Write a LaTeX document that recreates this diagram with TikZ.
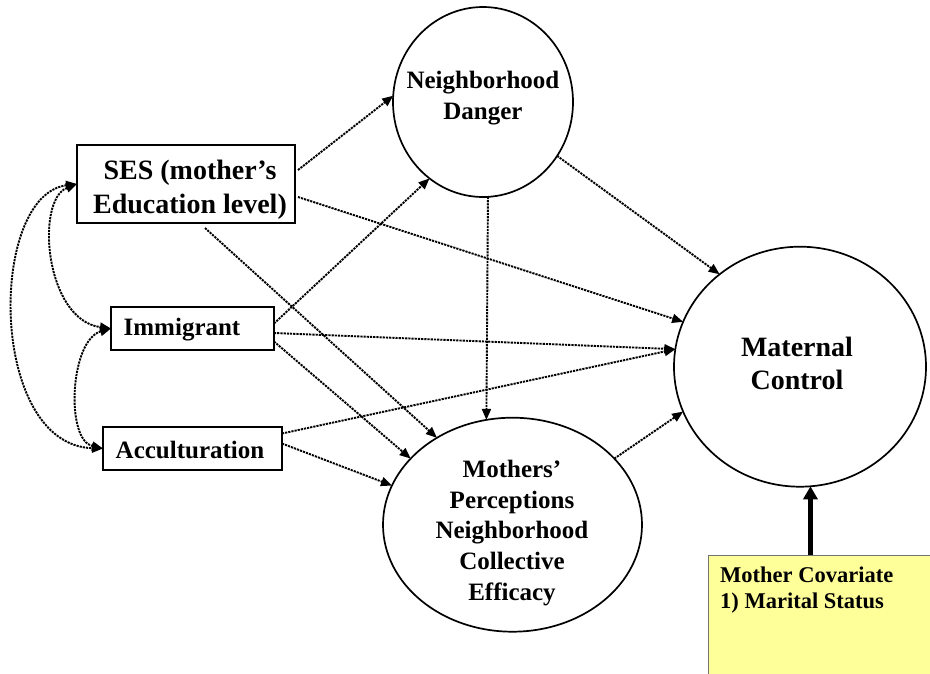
\documentclass[tikz,border=0pt]{standalone}
\usepackage{fontspec}
\setmainfont{Liberation Serif}
\usetikzlibrary{arrows.meta,shapes.geometric}
\definecolor{notebg}{HTML}{FFFF99}

\begin{document}
\begin{tikzpicture}[x=1pt,y=-1pt,
  box/.style={draw, line width=1.2pt, inner sep=0pt, outer sep=0pt},
  bubble/.style={draw, ellipse, line width=1.7pt, inner sep=0pt, outer sep=0pt},
  lbl/.style={font=\bfseries\fontsize{25}{31}\selectfont, align=center, inner sep=0pt},
  biglbl/.style={font=\bfseries\fontsize{28}{34}\selectfont, align=center, inner sep=0pt},
  effect/.style={line width=1.9pt, dash pattern=on 2.2pt off 1pt, -{Triangle[length=11pt,width=9pt]}},
  cov/.style={line width=1.9pt, dash pattern=on 2.2pt off 1pt,
    {Triangle[length=11pt,width=9pt]}-{Triangle[length=11pt,width=9pt]}},
]
\fill[white, use as bounding box] (0,0) rectangle (930,673);

% observed predictors
\node[box, minimum width=218pt, minimum height=78pt] (ses) at (186,184) {};
\node[biglbl] (sestext) at (190,189.5) {SES (mother’s\\Education level)};
\node[box, minimum width=163pt, minimum height=43pt] (imm) at (192.5,328.5) {};
\node[lbl] (immtext) at (182,330) {Immigrant};
\node[box, minimum width=179pt, minimum height=43pt] (acc) at (192.5,448.5) {};
\node[lbl] (acctext) at (190,450) {Acculturation};

% latent constructs
\node[bubble, minimum width=180pt, minimum height=190pt] (nd) at (483,102) {};
\node[lbl] (ndtext) at (483,98) {Neighborhood\\Danger};
\node[bubble, minimum width=259pt, minimum height=214pt] (mpe) at (512.5,524.7) {};
\node[lbl, font=\bfseries\fontsize{25}{30.8}\selectfont] (mpetext) at (512,533)
  {Mothers’\\Perceptions\\Neighborhood\\Collective\\Efficacy};
\node[bubble, minimum width=252pt, minimum height=240pt] (mc) at (800,366.7) {};
\node[biglbl, font=\bfseries\fontsize{28}{33}\selectfont] (mctext) at (797,363) {Maternal\\Control};

% covariate note
\node[draw=black!55, line width=1pt, fill=notebg, anchor=north west,
  minimum width=232pt, minimum height=125pt, inner sep=0pt] (yb) at (708,555) {};
\node[font=\bfseries\fontsize{22.5}{26}\selectfont, align=left, anchor=west, inner sep=0pt]
  (ybtext) at (720,590) {Mother Covariate\\1) Marital Status};
\draw[line width=5pt, -{Triangle[length=13pt,width=14pt]}] (mc.275 |- yb.north) -- (mc.275);

% structural paths
\draw[effect] ([xshift=3pt,yshift=14pt]ses.east) -- (nd.176);
\draw[effect] ([xshift=3pt,yshift=-13pt]ses.east) -- (mc.159);
\draw[effect] ([xshift=19pt,yshift=-5pt]ses.south) -- (mpe.131);
\draw[effect] ([yshift=5pt]imm.east) -- (nd.235);
\draw[effect] ([yshift=-4.5pt]imm.east) -- (mc.172);
\draw[effect] ([yshift=-13pt]imm.east) -- (mpe.147);
\draw[effect] ([yshift=15pt]acc.east) -- (mc.172);
\draw[effect] ([yshift=5pt]acc.east) -- (mpe.162);
\draw[effect] (nd.324) -- (mc.131);
\draw[effect] (nd.273) -- (mpe.104);
\draw[effect] (mpe.33) -- (mc.201);

% covariances among predictors
\draw[cov] (ses.west) .. controls (35,200) and (45,320) .. (imm.west);
\draw[cov] (ses.west) .. controls (-12,195) and (-12,445) .. (acc.west);
\draw[cov] (imm.west) .. controls (70,340) and (65,440) .. (acc.west);
\end{tikzpicture}
\end{document}
